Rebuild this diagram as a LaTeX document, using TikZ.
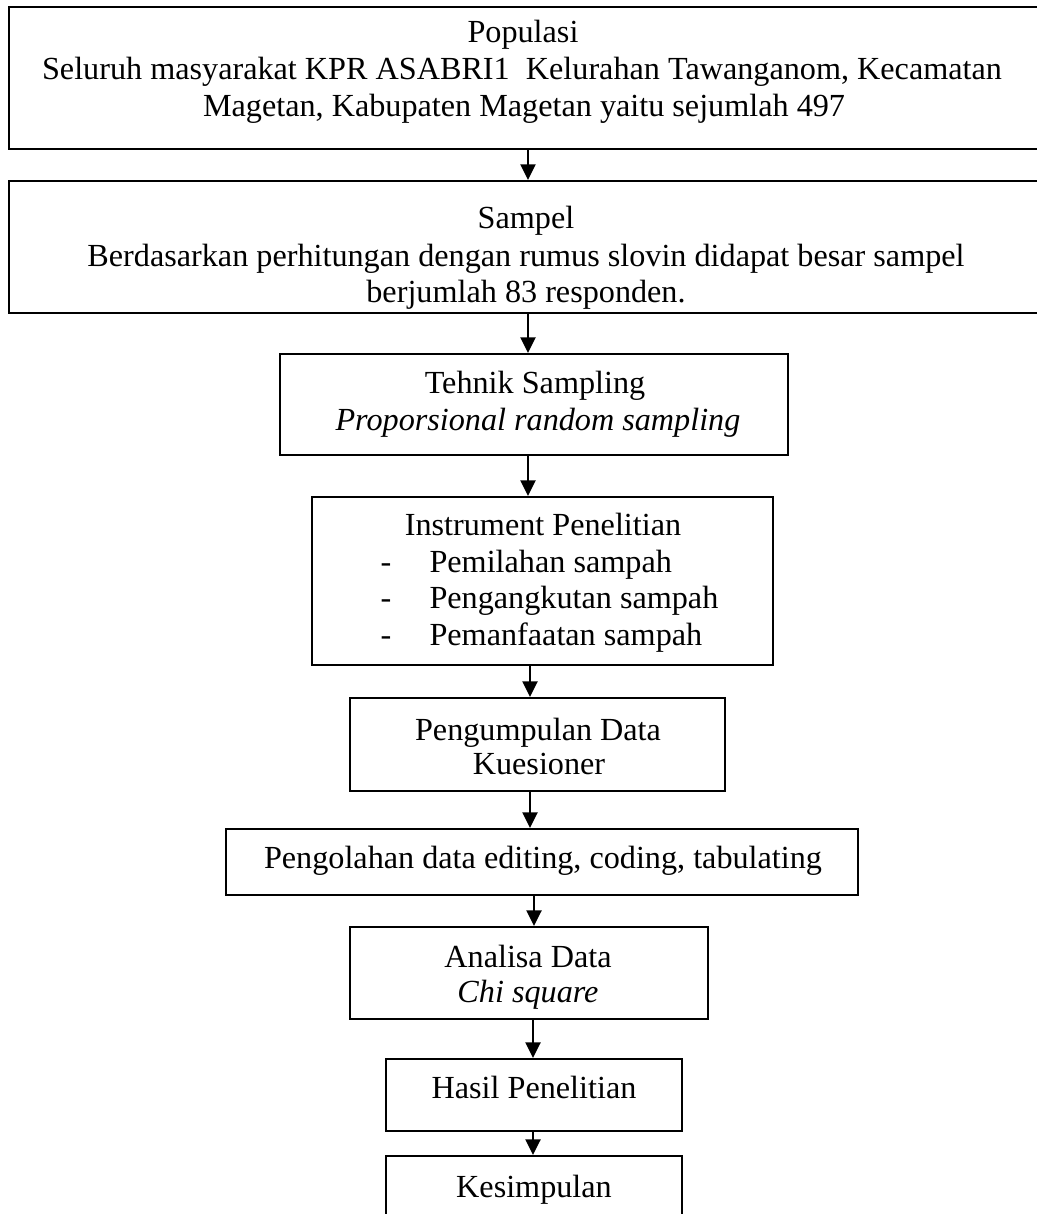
\documentclass[tikz,border=0pt]{standalone}
\usepackage{fontspec}
\setmainfont{Liberation Serif}
\usetikzlibrary{arrows.meta}
\begin{document}
\begin{tikzpicture}[x=0.3727pt,y=-0.3727pt,
  box/.style 2 args={draw, line width=0.8pt, inner sep=0pt, minimum width=#1*0.3727pt, minimum height=#2*0.3727pt},
  txt/.style={inner sep=0pt, anchor=base, font=\fontsize{12}{14}\selectfont},
  ltxt/.style={txt, anchor=base west},
  arr/.style={line width=0.8pt, -{Triangle[width=5.6pt,length=5.8pt]}}]
\useasboundingbox (0,0) rectangle (1036,1214);
% boxes
\node[box={1031}{142}] (b1) at (524.5,78) {};
\node[box={1031}{132}] (b2) at (524.5,247) {};
\node[box={508}{101}] (b3) at (534,404.5) {};
\node[box={461}{168}] (b4) at (542.5,581) {};
\node[box={375}{93}] (b5) at (537.5,744.5) {};
\node[box={632}{66}] (b6) at (542,862) {};
\node[box={358}{92}] (b7) at (529,973) {};
\node[box={296}{72}] (b8) at (534,1095) {};
\node[box={296}{76}] (b9) at (534,1194) {};
% texts
\node[txt] (t1a) at (523,43) {Populasi};
\node[txt] (t1b) at (522,80) {Seluruh masyarakat KPR ASABRI1\ \ Kelurahan Tawanganom, Kecamatan};
\node[txt] (t1c) at (524,117) {Magetan, Kabupaten Magetan yaitu sejumlah 497};
\node[txt] (t2a) at (526,229) {Sampel};
\node[txt] (t2b) at (526,267) {Berdasarkan perhitungan dengan rumus slovin didapat besar sampel};
\node[txt] (t2c) at (526,303) {berjumlah 83 responden.};
\node[txt] (t3a) at (535,393) {Tehnik Sampling};
\node[txt] (t3b) at (538,430) {\itshape Proporsional random sampling};
\node[txt] (t4a) at (543,535) {Instrument Penelitian};
\node[txt] (d4b) at (386,572) {-};
\node[ltxt] (t4b) at (429,572) {Pemilahan sampah};
\node[txt] (d4c) at (386,608) {-};
\node[ltxt] (t4c) at (429,608) {Pengangkutan sampah};
\node[txt] (d4d) at (386,645) {-};
\node[ltxt] (t4d) at (429,645) {Pemanfaatan sampah};
\node[txt] (t5a) at (538,740) {Pengumpulan Data};
\node[txt] (t5b) at (539,774) {Kuesioner};
\node[txt] (t6a) at (543,868) {Pengolahan data editing, coding, tabulating};
\node[txt] (t7a) at (528,967) {Analisa Data};
\node[txt] (t7b) at (528,1002) {\itshape Chi square};
\node[txt] (t8a) at (534,1098) {Hasil Penelitian};
\node[txt] (t9a) at (534,1197) {Kesimpulan};
% arrow x positions
\coordinate (xa) at (528,0);
\coordinate (xb) at (530,0);
\coordinate (xc) at (534,0);
\coordinate (xd) at (533,0);
% connectors
\draw[arr] (b1.south -| xa) -- (b2.north -| xa);
\draw[arr] (b2.south -| xa) -- (b3.north -| xa);
\draw[arr] (b3.south -| xa) -- (b4.north -| xa);
\draw[arr] (b4.south -| xb) -- (b5.north -| xb);
\draw[arr] (b5.south -| xb) -- (b6.north -| xb);
\draw[arr] (b6.south -| xc) -- (b7.north -| xc);
\draw[arr] (b7.south -| xd) -- (b8.north -| xd);
\draw[arr] (b8.south -| xd) -- (b9.north -| xd);
\end{tikzpicture}
\end{document}
